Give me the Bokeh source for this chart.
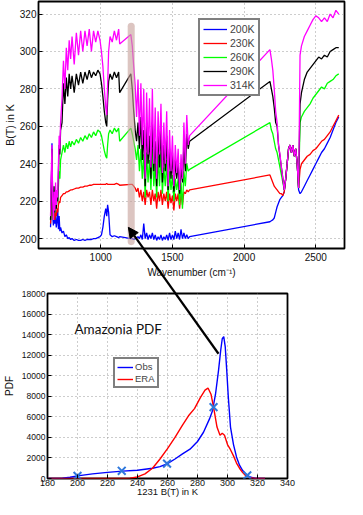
from bokeh.plotting import figure
from bokeh.models import Range1d, Arrow, NormalHead, BoxAnnotation, Label, FixedTicker
from bokeh.layouts import column
from bokeh.embed import file_html
from bokeh.resources import INLINE

# ---------------- top panel data: brightness temperature spectra ----------------
wavenumber = [
    650, 655, 660, 665, 670, 675, 680, 685, 690, 695, 700, 705, 710, 715, 720,
    730, 740, 750, 760, 770, 780, 790, 800, 815, 830, 845, 860, 875, 890, 905, 920, 935, 950, 965, 980, 995,
    1005, 1015, 1025, 1035, 1042, 1048, 1055, 1065, 1080, 1095, 1110, 1125, 1132,
    1210, 1220, 1230, 1240, 1250, 1260, 1270, 1280, 1290, 1300, 1310, 1320, 1330, 1340, 1350, 1360, 1370,
    1380, 1390, 1400, 1410, 1420, 1430, 1440, 1450, 1460, 1470, 1480, 1490, 1500, 1510, 1520, 1530, 1540,
    1550, 1560, 1570, 1580, 1590, 1600, 1610, 1620,
    2180, 2190, 2200, 2210, 2220, 2230, 2240, 2250, 2260, 2270, 2280, 2290, 2300, 2310, 2320, 2330, 2340,
    2350, 2360, 2370, 2380, 2390,
    2400, 2420, 2440, 2460, 2480, 2500, 2520, 2540, 2560, 2580, 2600, 2620, 2640, 2660,
]

bt_200k = [
    206, 222, 251, 212, 207, 215, 208, 212, 206, 209, 216, 205, 212, 204, 206,
    203, 204, 201, 202, 200, 200.5, 199.5, 200, 199, 199.5, 199, 199, 199.5, 199, 199.5, 199.5, 199.5, 200, 200, 200.5, 201,
    202, 206, 212, 216, 212, 218, 214, 202, 201, 201.5, 201, 200.5, 201,
    200, 200, 199.5, 200, 200.5, 201, 200, 202, 199.5, 208, 200, 203, 199.5, 202, 200, 203, 199.5,
    202, 199, 201, 199.5, 202, 199, 201, 199.5, 202, 199, 203, 199.5, 202, 199.5, 204, 200, 203,
    199.5, 205, 200, 203, 200, 202, 200, 201,
    209, 209.5, 210, 211, 214, 217, 219, 221, 222, 223, 225, 232, 240, 248, 250, 246, 250,
    244, 248, 240, 226, 224,
    225, 228, 231, 234, 237, 240, 243, 246, 248, 251, 254, 258, 262, 265,
]

bt_230k = [
    208, 215, 220, 212, 210, 214, 210, 214, 212, 216, 214, 218, 220, 219, 222,
    223, 224, 224, 225, 225, 225.5, 226, 226, 226.5, 227, 227, 227.5, 227.5, 228, 228, 228.5, 228.5, 229, 229, 229, 229,
    229, 229, 229, 229, 229.5, 229, 229, 229, 229, 229, 229.5, 229, 228.5,
    229, 229, 228, 227, 225, 227, 222, 226, 220, 225, 218, 226, 222, 225, 218, 226, 220,
    224, 216, 225, 220, 226, 218, 224, 220, 225, 216, 224, 219, 223, 215, 224, 220, 224,
    216, 224, 218, 225, 224, 226, 225, 226,
    234, 232, 230, 228, 227, 226, 225, 224, 224, 223, 225, 232, 240, 248, 250, 246, 250,
    244, 248, 240, 227, 237,
    240, 242, 244, 245, 247, 248, 250, 252, 253, 255, 257, 260, 263, 266,
]

bt_260k = [
    210, 224, 245, 216, 210, 222, 214, 224, 216, 222, 220, 228, 236, 232, 242,
    246, 250, 246, 251, 248, 252, 249, 252, 250, 253, 251, 254, 252, 255, 253, 256, 254, 257, 255, 258, 257,
    255, 251, 247, 244, 243, 250, 256, 258, 256, 259, 257, 259, 252,
    259, 256, 252, 248, 242, 250, 236, 248, 232, 245, 222, 246, 230, 242, 226, 248, 228,
    240, 222, 244, 228, 246, 224, 238, 228, 242, 220, 236, 226, 234, 220, 232, 226, 232,
    218, 230, 216, 236, 228, 240, 236, 237,
    262, 258, 256, 252, 248, 246, 242, 238, 234, 230, 226, 232, 240, 248, 250, 246, 250,
    244, 248, 240, 227, 262,
    265, 268, 270, 272, 275, 277, 279, 281, 280, 283, 284, 285, 287, 288,
]

bt_290k = [
    210, 226, 248, 218, 212, 228, 214, 226, 216, 224, 220, 235, 250, 245, 258,
    262, 283, 272, 286, 276, 288, 280, 287, 278, 288, 282, 289, 283, 289, 285, 290, 286, 289, 287, 290, 288,
    283, 276, 268, 262, 260, 274, 284, 288, 285, 289, 286, 289, 278,
    288, 280, 268, 258, 252, 262, 248, 265, 242, 258, 228, 262, 240, 255, 232, 262, 236,
    252, 228, 258, 238, 260, 230, 250, 236, 255, 226, 248, 232, 246, 225, 242, 232, 240,
    224, 238, 230, 250, 236, 256, 248, 252,
    284, 280, 276, 270, 262, 260, 250, 244, 238, 232, 226, 232, 240, 248, 250, 246, 250,
    244, 248, 240, 227, 272,
    278, 285, 289, 291, 293, 295, 297, 296, 298, 297, 300, 301, 302, 302,
]

bt_314k = [
    212, 235, 250, 220, 210, 225, 215, 230, 218, 226, 222, 240, 255, 248, 262,
    275, 295, 280, 302, 290, 306, 296, 308, 293, 310, 298, 311, 300, 311, 303, 312, 300, 311, 305, 311, 306,
    300, 292, 280, 270, 266, 282, 300, 308, 305, 311, 306, 312, 304,
    309, 303, 292, 282, 265, 285, 255, 283, 250, 280, 232, 278, 245, 275, 238, 280, 240,
    270, 232, 268, 245, 272, 235, 262, 240, 268, 228, 258, 236, 255, 228, 250, 235, 248,
    226, 245, 232, 262, 240, 266, 250, 255,
    301, 296, 290, 280, 268, 262, 250, 245, 238, 232, 226, 232, 240, 248, 250, 246, 250,
    244, 248, 240, 227, 298,
    303, 308, 311, 314, 317, 319, 318, 316, 318, 316, 320, 318, 322, 320,
]

series_labels = ["200K", "230K", "260K", "290K", "314K"]
series_colors = ["#0000ff", "#ff0000", "#00ff00", "#000000", "#ff00ff"]
series_values = [bt_200k, bt_230k, bt_260k, bt_290k, bt_314k]

top_x_ticks = [1000, 1500, 2000, 2500]
top_y_ticks = [200, 220, 240, 260, 280, 300, 320]

# highlighted 1231 cm-1 channel band
band_left, band_right, band_bottom, band_top = 1188, 1237, 196.5, 315.3

# ---------------- bottom panel data: PDF of 1231 cm-1 B(T) ----------------
obs_t = [180, 190, 195, 200, 205, 210, 220, 230, 240, 250, 255, 260, 265, 270, 275, 280, 284, 288, 290,
         292, 294, 295.5, 296.5, 297.5, 298.5, 299.5, 300.5, 302, 304, 306, 308, 310, 312, 315, 318, 322, 325]
obs_pdf = [0, 30, 120, 250, 350, 450, 600, 720, 800, 1000, 1150, 1450, 1900, 2400, 2850, 3600, 4500, 5800, 6600,
           8200, 10500, 12500, 13600, 13800, 12800, 10500, 8000, 5000, 3300, 2100, 1300, 800, 450, 150, 30, 0, 0]

era_t = [180, 230, 235, 240, 245, 250, 255, 260, 265, 270, 274, 278, 282, 285, 287, 289, 291, 293, 295,
         296.5, 298, 300, 302, 304, 306, 308, 310, 312, 315, 318, 325]
era_pdf = [0, 0, 40, 150, 450, 1000, 1900, 2900, 4000, 5200, 6100, 6800, 7900, 8600, 8800, 8200, 6700, 5000, 4200,
           4400, 4200, 3300, 2800, 2200, 1500, 1000, 600, 300, 80, 10, 0]

profile_t = [200, 229.5, 259.7, 290.7, 313.2]
profile_pdf = [250, 750, 1450, 6950, 300]

bottom_x_ticks = list(range(180, 341, 20))
bottom_y_ticks = list(range(0, 18001, 2000))

# arrow: from the PDF peak region (bottom panel) to the 1231 cm-1 band (top panel)
arrow_head_top = (1217, 206)      # (wavenumber, K) in the top panel
arrow_tail_bottom = (294, 12200)  # (K, PDF) in the bottom panel

FONT = "Liberation Sans"

# ---------------- layout geometry (fits 347 x 499 inside the 8px page margin) ----------------
W1, H1 = 347, 283
B1L, B1R, B1T, B1B = 33, 3, 1, 35
X1 = (566, 2700)
Y1 = (194.7, 326.7)

W2, H2 = 300, 216
B2L, B2R, B2T, B2B = 47, 13, 10, 19
X2 = (180, 340)
Y2 = (0, 18000)


def style(p, xticks, yticks, xfs, yfs):
    p.background_fill_color = "white"
    p.border_fill_color = "white"
    p.outline_line_color = "black"
    p.outline_line_width = 1.8
    p.xaxis.ticker = FixedTicker(ticks=xticks)
    p.yaxis.ticker = FixedTicker(ticks=yticks)
    for ax, fs in ((p.xaxis, xfs), (p.yaxis, yfs)):
        ax.major_tick_in = 4
        ax.major_tick_out = 0
        ax.minor_tick_line_color = None
        ax.axis_line_color = None
        ax.major_tick_line_color = "black"
        ax.major_label_text_font = FONT
        ax.major_label_text_font_size = fs
        ax.major_label_text_color = "#111111"
        ax.axis_label_text_font = FONT
        ax.axis_label_text_font_style = "normal"
        ax.axis_label_text_color = "#111111"
        ax.axis_label_text_font_size = "10px"
        ax.axis_label_standoff = 1
        ax.major_label_standoff = 2
    p.grid.grid_line_color = "#9a9a9a"
    p.grid.grid_line_dash = "1 3"
    p.grid.grid_line_width = 1


# ---------------- top figure ----------------
p1 = figure(width=W1, height=H1, output_backend="svg", toolbar_location=None,
            x_range=Range1d(*X1), y_range=Range1d(*Y1), frame_align=False,
            min_border_left=B1L, min_border_right=B1R, min_border_top=B1T, min_border_bottom=B1B)
style(p1, top_x_ticks, top_y_ticks, "10px", "10px")
p1.xaxis.axis_label = "Wavenumber (cm\u207b\u00b9)"
p1.yaxis.axis_label = "B(T) in K"
p1.yaxis.axis_label_text_font_size = "10.5px"
p1.xaxis.major_label_standoff = 4
p1.xaxis.axis_label_standoff = 3

for lab, col, vals in zip(series_labels, series_colors, series_values):
    p1.line(wavenumber, vals, line_color=col, line_width=1.3, legend_label=lab)

p1.add_layout(BoxAnnotation(left=band_left, right=band_right, bottom=band_bottom, top=band_top,
                            fill_color="#c6a19b", fill_alpha=0.62, line_alpha=0, border_radius=8))

p1.legend.location = (160, 152)
p1.legend.label_text_font = FONT
p1.legend.label_text_font_size = "10.5px"
p1.legend.label_height = 12
p1.legend.glyph_height = 12
p1.legend.glyph_width = 24
p1.legend.spacing = 2
p1.legend.padding = 3
p1.legend.margin = 0
p1.legend.label_standoff = 3
p1.legend.border_line_color = "black"
p1.legend.border_line_width = 2
p1.legend.background_fill_alpha = 1

# ---------------- bottom figure ----------------
p2 = figure(width=W2, height=H2, output_backend="svg", toolbar_location=None,
            x_range=Range1d(*X2), y_range=Range1d(*Y2), frame_align=False,
            min_border_left=B2L, min_border_right=B2R, min_border_top=B2T, min_border_bottom=B2B)
style(p2, bottom_x_ticks, bottom_y_ticks, "9px", "8.5px")
p2.xaxis.axis_label = "1231 B(T) in K"
p2.yaxis.axis_label = "PDF"
p2.xaxis.major_label_standoff = 1
p2.xaxis.axis_label_standoff = -3
p2.xaxis.axis_label_text_font_size = "9.5px"
p2.yaxis.axis_label_standoff = 4

p2.line(obs_t, obs_pdf, line_color="#0000ff", line_width=1.4, legend_label="Obs")
p2.line(era_t, era_pdf, line_color="#ff0000", line_width=1.4, legend_label="ERA")
p2.scatter(profile_t, profile_pdf, marker="x", size=11, line_color="#2f78dc", line_width=2)

p2.legend.location = (66, 90)
p2.legend.label_text_font = FONT
p2.legend.label_text_font_size = "9.5px"
p2.legend.label_height = 10
p2.legend.glyph_height = 10
p2.legend.glyph_width = 16
p2.legend.spacing = 1
p2.legend.padding = 2
p2.legend.margin = 0
p2.legend.label_standoff = 2
p2.legend.border_line_color = "black"
p2.legend.border_line_width = 2

p2.add_layout(Label(x=198, y=14550, text="Amazonia PDF", text_font="Lato",
                    text_font_size="13.5px", text_baseline="middle", text_color="#111111"))

# ---------------- transparent overlay carrying the connecting arrow ----------------
WO, HO = W1, H1 + H2


def top_px(wn, t):
    fw = W1 - B1L - B1R
    fh = H1 - B1T - B1B
    return (B1L + (wn - X1[0]) / (X1[1] - X1[0]) * fw,
            B1T + (Y1[1] - t) / (Y1[1] - Y1[0]) * fh)


def bottom_px(t, v):
    fw = W2 - B2L - B2R
    fh = H2 - B2T - B2B
    return (B2L + (t - X2[0]) / (X2[1] - X2[0]) * fw,
            H1 + B2T + (Y2[1] - v) / (Y2[1] - Y2[0]) * fh)


hx, hy = top_px(*arrow_head_top)
tx, ty = bottom_px(*arrow_tail_bottom)

p3 = figure(width=WO, height=HO, output_backend="svg", toolbar_location=None,
            x_range=Range1d(0, WO), y_range=Range1d(HO, 0), frame_align=False,
            x_axis_type=None, y_axis_type=None,
            min_border_left=0, min_border_right=0, min_border_top=0, min_border_bottom=0,
            margin=(-HO, 0, 0, 0))
p3.grid.visible = False
p3.outline_line_color = None
p3.background_fill_alpha = 0
p3.border_fill_alpha = 0
p3.add_layout(Arrow(end=NormalHead(size=10, fill_color="black", line_color="black"),
                    x_start=tx, y_start=ty, x_end=hx, y_end=hy,
                    line_color="black", line_width=2.2))

layout = column(p1, p2, p3, spacing=0)
open("out.html", "w").write(file_html(layout, INLINE))
